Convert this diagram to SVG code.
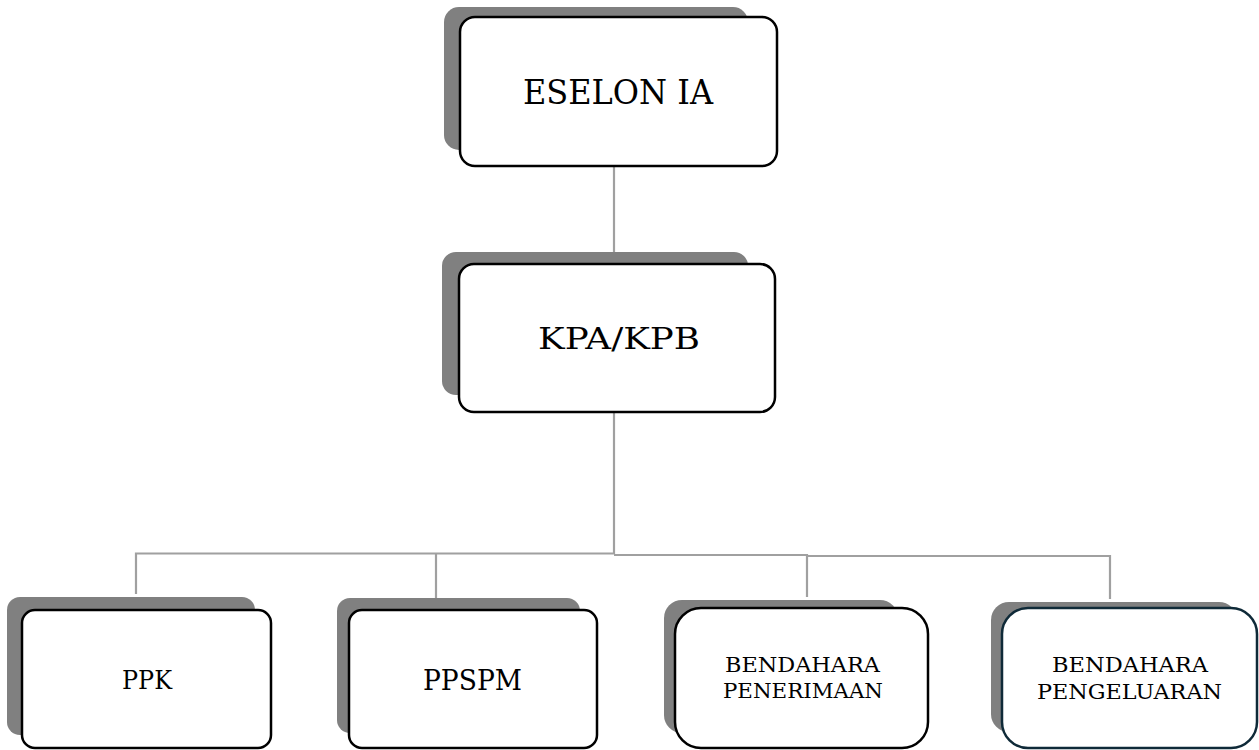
<svg xmlns="http://www.w3.org/2000/svg" width="1259" height="750" viewBox="0 0 1259 750">
<style>
.shadow{fill:#808080;stroke:none}
.box{fill:#ffffff;stroke:#000000;stroke-width:2.5}
.box2{fill:#ffffff;stroke:#0f2a38;stroke-width:2.5}
.conn{stroke:#a0a0a0;stroke-width:2.2;fill:none}
text{font-family:"DejaVu Serif","Liberation Serif",serif;fill:#000000;text-anchor:middle}
</style>
<rect x="0" y="0" width="1259" height="750" fill="#ffffff"/>
<g id="connectors">
<line class="conn" x1="614" y1="166" x2="614" y2="264"/>
<line class="conn" x1="614" y1="412" x2="614" y2="554"/>
<polyline class="conn" points="136,594 136,553.5 614,553.5"/>
<line class="conn" x1="436" y1="553.5" x2="436" y2="598"/>
<polyline class="conn" points="614,555 807,555 807,597"/>
<polyline class="conn" points="807,556 1110,556 1110,599"/>
</g>
<g id="eselon">
<rect class="shadow" x="444" y="7" width="304" height="143" rx="15"/>
<rect class="box" x="460" y="17" width="317" height="149" rx="15"/>
<text x="618" y="104" font-size="33" textLength="190" lengthAdjust="spacingAndGlyphs">ESELON IA</text>
</g>
<g id="kpa">
<rect class="shadow" x="442" y="252" width="306" height="143" rx="14"/>
<rect class="box" x="459" y="264" width="316" height="148" rx="15"/>
<text x="619" y="349" font-size="30" textLength="162" lengthAdjust="spacingAndGlyphs">KPA/KPB</text>
</g>
<g id="ppk">
<rect class="shadow" x="7" y="597" width="248" height="138" rx="13"/>
<rect class="box" x="22" y="610" width="249" height="138" rx="13"/>
<text x="147" y="689" font-size="26" textLength="50" lengthAdjust="spacingAndGlyphs">PPK</text>
</g>
<g id="ppspm">
<rect class="shadow" x="337" y="598" width="243" height="135" rx="13"/>
<rect class="box" x="349" y="610" width="248" height="138" rx="13"/>
<text x="472.5" y="690" font-size="27" textLength="99" lengthAdjust="spacingAndGlyphs">PPSPM</text>
</g>
<g id="bendahara-penerimaan">
<rect class="shadow" x="664" y="600" width="234" height="133" rx="18"/>
<rect class="box" x="675" y="608" width="253" height="140" rx="26"/>
<text x="802.5" y="672" font-size="21" textLength="155" lengthAdjust="spacingAndGlyphs">BENDAHARA</text>
<text x="803" y="698" font-size="21" textLength="160" lengthAdjust="spacingAndGlyphs">PENERIMAAN</text>
</g>
<g id="bendahara-pengeluaran">
<rect class="shadow" x="991" y="602" width="246" height="130" rx="18"/>
<rect class="box2" x="1002" y="608" width="255" height="140" rx="26"/>
<text x="1130" y="672" font-size="21" textLength="156" lengthAdjust="spacingAndGlyphs">BENDAHARA</text>
<text x="1129.5" y="699" font-size="21" textLength="185" lengthAdjust="spacingAndGlyphs">PENGELUARAN</text>
</g>
</svg>
